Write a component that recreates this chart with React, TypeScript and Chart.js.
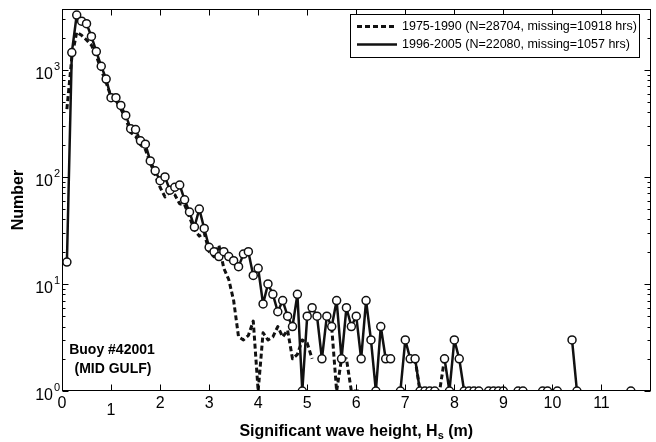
import React, { useEffect, useRef } from 'react';
import { Chart, registerables } from 'chart.js';

Chart.register(...registerables);

// Significant wave height bin centres (m)
const hsBins = [
  0.1, 0.2, 0.3, 0.4, 0.5, 0.6, 0.7, 0.8, 0.9, 1.0,
  1.1, 1.2, 1.3, 1.4, 1.5, 1.6, 1.7, 1.8, 1.9, 2.0,
  2.1, 2.2, 2.3, 2.4, 2.5, 2.6, 2.7, 2.8, 2.9, 3.0,
  3.1, 3.2, 3.3, 3.4, 3.5, 3.6, 3.7, 3.8, 3.9, 4.0,
  4.1, 4.2, 4.3, 4.4, 4.5, 4.6, 4.7, 4.8, 4.9, 5.0,
  5.1, 5.2, 5.3, 5.4, 5.5, 5.6, 5.7, 5.8, 5.9, 6.0,
  6.1, 6.2, 6.3, 6.4, 6.5, 6.6, 6.7, 6.8, 6.9, 7.0,
  7.1, 7.2, 7.3, 7.4, 7.5, 7.6, 7.7, 7.8, 7.9, 8.0,
  8.1, 8.2, 8.3, 8.4, 8.5, 8.6, 8.7, 8.8, 8.9, 9.0,
  9.1, 9.2, 9.3, 9.4, 9.5, 9.6, 9.7, 9.8, 9.9, 10.0,
  10.1, 10.2, 10.3, 10.4, 10.5, 10.6, 10.7, 10.8, 10.9, 11.0,
  11.1, 11.2, 11.3, 11.4, 11.5, 11.6,
];

// 1996-2005 counts (null = empty bin)
const count1996 = [
  16, 1450, 3250, 2850, 2700, 2050, 1480, 1080, 820, 550,
  550, 465, 375, 282, 277, 217, 202, 141, 114, 92,
  100, 75, 80, 84, 61, 47, 34, 50, 33, 22,
  20, 18, 20, 18, 16.5, 14.5, 19, 20, 12, 14,
  6.5, 10, 8, 5.5, 7, 5, 4, 8, 1, 5,
  6, 5, 2, 5, 4, 7, 2, 6, 4, 5,
  2, 7, 3, 1, 4, 2, 2, null, 1, 3,
  2, 2, 1, 1, 1, 1, null, 2, 1, 3,
  2, 1, 1, 1, 1, null, 1, 1, 1, 1,
  null, null, 1, 1, null, null, null, 1, 1, null,
  1, null, null, 3, 1, null, null, null, null, null,
  null, null, null, null, null, 1,
];

// 1975-1990 counts (null = empty bin)
const count1975 = [
  430, 1300, 2250, 2100, 1900, 1700, 1350, 1000, 760, 560,
  520, 430, 350, 260, 240, 200, 180, 135, 105, 80,
  65, 72, 68, 56, 55, 42, 32, 28, 30, 20,
  18, 23, 14, 11, 7, 3.2, 3, 3.3, 4.5, 1,
  3.5, 3, 3.2, 4, 3.2, 3.7, 2, 2.2, 3, 2.8,
  2, null, null, null, 3.9, 1, 2, 2, 1, 1,
  1, null, null, null, null, null, null, null, null, null,
  null, 2, 1, 1, 1, 1, 1, 2,
];

const xTicks = [0, 1, 2, 3, 4, 5, 6, 7, 8, 9, 10, 11];
const yTicks = [1, 10, 100, 1000];
const legendLabels = [
  '1975-1990 (N=28704, missing=10918 hrs)',
  '1996-2005 (N=22080, missing=1057 hrs)',
];
const annotationLines = ['Buoy #42001', '(MID GULF)'];
const xTitleParts = ['Significant wave height, H', 's', ' (m)'];
const yTitle = 'Number';

const FONT = '"Liberation Sans", Arial, Helvetica, sans-serif';
const INK = '#111';

const decor = {
  id: 'decor',
  afterDraw(chart: any) {
    const { ctx, chartArea: a } = chart;
    const xs = chart.scales.x;
    const ys = chart.scales.y;
    ctx.save();
    ctx.strokeStyle = '#000';
    ctx.lineWidth = 1;
    const L = Math.round(a.left) + 0.5;
    const R = Math.round(a.right) - 0.5;
    const T = Math.round(a.top) + 0.5;
    const B = Math.round(a.bottom) - 0.5;
    ctx.strokeRect(L, T, R - L, B - T);

    ctx.beginPath();
    for (const v of xTicks) {
      const px = Math.round(xs.getPixelForValue(v)) + 0.5;
      ctx.moveTo(px, B); ctx.lineTo(px, B - 6);
      ctx.moveTo(px, T); ctx.lineTo(px, T + 6);
    }
    for (let d = 0; d <= 3; d++) {
      for (let k = 1; k <= 9; k++) {
        const v = k * Math.pow(10, d);
        if (v > ys.max) break;
        const py = Math.round(ys.getPixelForValue(v)) + 0.5;
        const len = k === 1 ? 6 : 3;
        ctx.moveTo(L, py); ctx.lineTo(L + len, py);
        ctx.moveTo(R, py); ctx.lineTo(R - len, py);
      }
    }
    ctx.stroke();

    // x tick labels
    ctx.fillStyle = '#000';
    ctx.font = `16px ${FONT}`;
    ctx.textAlign = 'center';
    ctx.textBaseline = 'middle';
    for (const v of xTicks) {
      const px = xs.getPixelForValue(v);
      ctx.fillText(String(v), px, a.bottom + 13 + (v === 1 ? 7 : 0));
    }

    // y tick labels 10^n
    for (const v of yTicks) {
      const py = ys.getPixelForValue(v);
      const e = Math.round(Math.log10(v));
      ctx.font = `16px ${FONT}`;
      ctx.textAlign = 'right';
      ctx.fillText('10', a.left - 9, py + 4.5);
      ctx.font = `11px ${FONT}`;
      ctx.textAlign = 'left';
      ctx.fillText(String(e), a.left - 8, py - 3);
    }

    // x title with subscript
    ctx.font = `bold 16px ${FONT}`;
    const w1 = ctx.measureText(xTitleParts[0]).width;
    const w3 = ctx.measureText(xTitleParts[2]).width;
    ctx.font = `bold 11px ${FONT}`;
    const w2 = ctx.measureText(xTitleParts[1]).width;
    const cx = (a.left + a.right) / 2;
    let sx = cx - (w1 + w2 + w3) / 2;
    const ty = 430;
    ctx.textAlign = 'left';
    ctx.textBaseline = 'alphabetic';
    ctx.font = `bold 16px ${FONT}`;
    ctx.fillText(xTitleParts[0], sx, ty + 6);
    sx += w1;
    ctx.font = `bold 11px ${FONT}`;
    ctx.fillText(xTitleParts[1], sx, ty + 9);
    sx += w2;
    ctx.font = `bold 16px ${FONT}`;
    ctx.fillText(xTitleParts[2], sx, ty + 6);

    // y title
    ctx.save();
    ctx.translate(19, (a.top + a.bottom) / 2);
    ctx.rotate(-Math.PI / 2);
    ctx.textAlign = 'center';
    ctx.textBaseline = 'middle';
    ctx.font = `bold 16px ${FONT}`;
    ctx.fillText(yTitle, 0, 0);
    ctx.restore();

    // annotation
    ctx.font = `bold 14px ${FONT}`;
    ctx.textAlign = 'center';
    ctx.textBaseline = 'middle';
    ctx.fillText(annotationLines[0], 112, 350);
    ctx.fillText(annotationLines[1], 113, 369);

    // legend
    const bx = 350.5, by = 14.5, bw = 289, bh = 43;
    ctx.fillStyle = '#fff';
    ctx.fillRect(bx, by, bw, bh);
    ctx.strokeStyle = '#000';
    ctx.lineWidth = 1;
    ctx.strokeRect(bx, by, bw, bh);
    const rows = [by + 12, by + 30];
    ctx.lineWidth = 3;
    ctx.strokeStyle = INK;
    ctx.setLineDash([5, 3]);
    ctx.beginPath(); ctx.moveTo(357, rows[0]); ctx.lineTo(397, rows[0]); ctx.stroke();
    ctx.setLineDash([]);
    ctx.lineWidth = 2.5;
    ctx.beginPath(); ctx.moveTo(357, rows[1]); ctx.lineTo(397, rows[1]); ctx.stroke();
    ctx.fillStyle = '#000';
    ctx.font = `12.5px ${FONT}`;
    ctx.textAlign = 'left';
    ctx.textBaseline = 'middle';
    ctx.fillText(legendLabels[0], 402, rows[0] + 0.5);
    ctx.fillText(legendLabels[1], 402, rows[1] + 0.5);
    ctx.restore();
  },
};

export default function App() {
  const ref = useRef<HTMLCanvasElement>(null);
  useEffect(() => {
    document.body.style.margin = '0';
    const canvas = ref.current!;
    const chart = new Chart(canvas, {
      type: 'line',
      data: {
        datasets: [
          {
            label: legendLabels[1],
            data: hsBins.map((x, i) => ({ x, y: count1996[i] })),
            borderColor: INK,
            borderWidth: 2.5,
            borderJoinStyle: 'round',
            pointRadius: 4,
            pointBackgroundColor: '#fff',
            pointBorderColor: INK,
            pointBorderWidth: 1.5,
            spanGaps: false,
            tension: 0,
          },
          {
            label: legendLabels[0],
            data: hsBins.slice(0, count1975.length).map((x, i) => ({ x, y: count1975[i] })),
            borderColor: INK,
            borderWidth: 3,
            borderJoinStyle: 'round',
            borderDash: [5, 3],
            pointRadius: 0,
            spanGaps: false,
            tension: 0,
          },
        ],
      },
      options: {
        animation: false,
        responsive: false,
        devicePixelRatio: 1,
        layout: { padding: { top: 9, right: 4, left: 0, bottom: 0 } },
        plugins: { legend: { display: false }, tooltip: { enabled: false } },
        scales: {
          x: {
            type: 'linear',
            min: 0,
            max: 12,
            grid: { display: false, drawTicks: false },
            border: { display: false },
            ticks: { display: false },
            afterFit: (s: any) => { s.height = 51; },
          },
          y: {
            type: 'logarithmic',
            min: 1,
            max: 3700,
            grid: { display: false, drawTicks: false },
            border: { display: false },
            ticks: { display: false },
            afterFit: (s: any) => { s.width = 62; },
          },
        },
      },
      plugins: [decor],
    } as any);
    return () => chart.destroy();
  }, []);
  return (
    <div style={{ position: 'absolute', left: 0, top: 0, width: 656, height: 442, background: '#fff' }}>
      <canvas ref={ref} width={656} height={442} style={{ display: 'block' }} />
    </div>
  );
}
